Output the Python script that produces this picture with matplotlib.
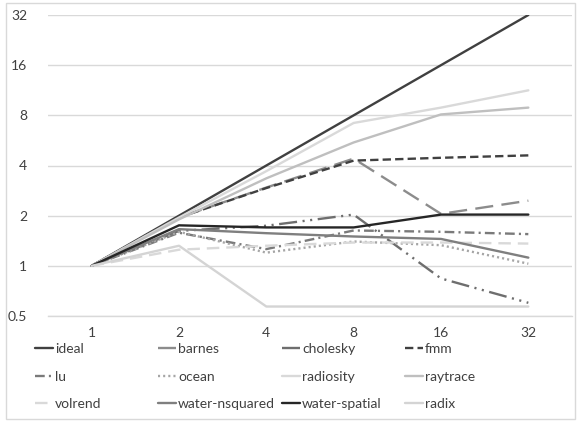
import matplotlib
matplotlib.use("Agg")
import matplotlib.pyplot as plt
from matplotlib.patches import Rectangle

plt.rcParams['font.family'] = ['Lato', 'DejaVu Sans']
plt.rcParams['lines.scale_dashes'] = False

categories = ["1", "2", "4", "8", "16", "32"]
y_ticks = [0.5, 1, 2, 4, 8, 16, 32]
y_tick_labels = ["0.5", "1", "2", "4", "8", "16", "32"]

ideal = [1, 2, 4, 8, 16, 32]
barnes = [1, 1.95, 2.95, 4.4, 2.05, 2.46]
cholesky = [1, 1.62, 1.74, 2.03, 0.84, 0.6]
fmm = [1, 1.95, 2.93, 4.28, 4.45, 4.6]
lu = [1, 1.58, 1.26, 1.63, 1.6, 1.55]
ocean = [1, 1.6, 1.2, 1.4, 1.33, 1.03]
radiosity = [1, 1.95, 3.7, 7.2, 8.9, 11.3]
raytrace = [1, 1.9, 3.35, 5.5, 8.1, 8.9]
volrend = [1, 1.25, 1.32, 1.38, 1.38, 1.36]
water_nsquared = [1, 1.66, 1.57, 1.5, 1.45, 1.12]
water_spatial = [1, 1.75, 1.7, 1.7, 2.03, 2.03]
radix = [1, 1.32, 0.57, 0.57, 0.57, 0.57]

series = [
    ("ideal", ideal, "#404040", None),
    ("barnes", barnes, "#8c8c8c", (0, (13, 6))),
    ("cholesky", cholesky, "#6e6e6e", (0, (13, 4, 1.5, 4, 1.5, 4))),
    ("fmm", fmm, "#404040", (0, (6, 3))),
    ("lu", lu, "#7a7a7a", (0, (7, 3, 1.5, 3))),
    ("ocean", ocean, "#a6a6a6", (0, (1.5, 2.2))),
    ("radiosity", radiosity, "#d9d9d9", None),
    ("raytrace", raytrace, "#bfbfbf", None),
    ("volrend", volrend, "#d9d9d9", (0, (9, 5))),
    ("water-nsquared", water_nsquared, "#7f7f7f", None),
    ("water-spatial", water_spatial, "#262626", None),
    ("radix", radix, "#d4d4d4", None),
]

W, H = 577, 421
fig = plt.figure(figsize=(W / 100, H / 100), dpi=100)
fig.patch.set_facecolor("white")
ax = fig.add_axes([48 / W, 1 - 316 / H, (572 - 48) / W, (316 - 15) / H])

x = list(range(len(categories)))
handles = {}
for name, vals, color, ls in series:
    kw = dict(color=color, lw=1.7, solid_capstyle="round")
    if ls is not None:
        kw["linestyle"] = ls
    line, = ax.plot(x, vals, label=name, **kw)
    handles[name] = line

ax.set_yscale("log", base=2)
ax.set_ylim(0.5, 32)
ax.set_yticks(y_ticks)
ax.set_yticklabels(y_tick_labels)
ax.minorticks_off()
ax.set_xlim(-0.5, len(categories) - 0.5)
ax.set_xticks(x)
ax.set_xticklabels(categories)
ax.tick_params(axis="both", length=0, labelsize=10, colors="#404040")
ax.tick_params(axis="y", pad=15)
ax.tick_params(axis="x", pad=8)
ax.grid(axis="y", color="#d9d9d9", lw=1)
ax.set_axisbelow(True)
for s in ["left", "right", "top"]:
    ax.spines[s].set_visible(False)
ax.spines["bottom"].set_color("#d9d9d9")
ax.spines["bottom"].set_linewidth(1)

# legend: 4 columns, row-major order as in reference
names = [s[0] for s in series]
col_x = [35, 158, 282, 405]
for c in range(4):
    col_names = [names[c + 4 * r] for r in range(3)]
    fig.legend([handles[n] for n in col_names], col_names,
               loc="upper left", bbox_to_anchor=(col_x[c] / W, 1 - 343 / H),
               frameon=False, fontsize=10, borderpad=0, borderaxespad=0,
               handlelength=1.3, handletextpad=0.15, labelspacing=1.12,
               labelcolor="#404040")

fig.patches.append(Rectangle((6 / W, 2 / H), (575 - 6) / W, (418 - 2) / H,
                             transform=fig.transFigure, fill=False,
                             edgecolor="#d9d9d9", lw=1))

fig.savefig("out.png", dpi=100, facecolor="white")
